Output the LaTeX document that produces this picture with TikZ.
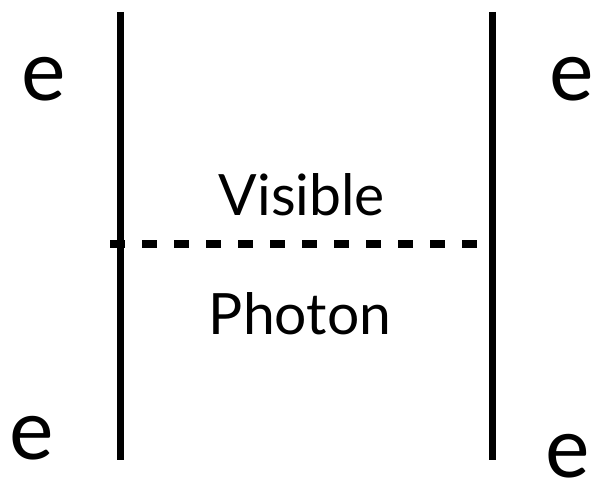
\documentclass[tikz,border=0pt]{standalone}
\usepackage{fontspec}
\setmainfont{Lato}
\begin{document}
\begin{tikzpicture}[x=1pt,y=-1pt,
  wire/.style={line width=7pt},
  dashwire/.style={line width=7.5pt, dash pattern=on 15pt off 17pt},
  lbl/.style={inner sep=0pt, anchor=base, font=\fontsize{57}{60}\selectfont},
  elbl/.style={inner sep=0pt, anchor=base, font=\fontsize{84}{88}\selectfont}]
\useasboundingbox (0,0) rectangle (594,484);
\coordinate (lt) at (120,12);
\coordinate (lb) at (120,460);
\coordinate (rt) at (492,12);
\coordinate (rb) at (492,460);
\coordinate (dl) at (110,244);
\coordinate (dr) at (480,244);
\draw[wire] (lt) -- (lb);
\draw[wire] (rt) -- (rb);
\draw[dashwire] (dl) -- (dr);
\node[lbl] (vis) at (302,215) {Visible};
\node[lbl] (pho) at (300,334) {Photon};
\node[elbl] (e1) at (44,101) {e};
\node[elbl] (e2) at (572,101) {e};
\node[elbl] (e3) at (32,459) {e};
\node[elbl] (e4) at (568,477) {e};
\end{tikzpicture}
\end{document}
